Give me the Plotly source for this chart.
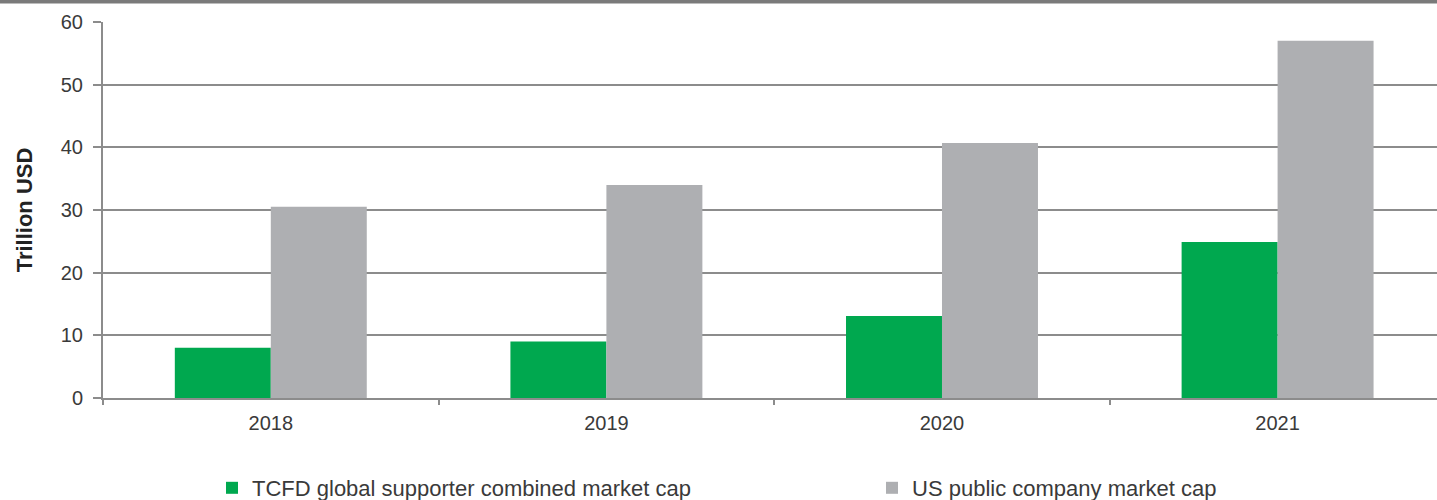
import plotly.graph_objects as go

years = ["2018", "2019", "2020", "2021"]
tcfd_supporters = [8.0, 9.0, 13.1, 24.9]
us_public = [30.5, 34.0, 40.7, 57.0]

GREEN = "#00A84F"
GREY = "#AEAFB2"
AXIS = "#8C8C8C"
TEXT = "#3A3A3A"
FONT = "Liberation Sans, Arial, sans-serif"

W, H = 1437, 500
TOP, BOTTOM = 22, 102
PLOT_H = H - TOP - BOTTOM

fig = go.Figure()
fig.add_trace(go.Bar(
    x=years, y=tcfd_supporters, name="TCFD global supporter combined market cap",
    marker=dict(color=GREEN, line=dict(width=0)), legend="legend",
))
fig.add_trace(go.Bar(
    x=years, y=us_public, name="US public company market cap",
    marker=dict(color=GREY, line=dict(width=0)), legend="legend2",
))

# thin dark band along the top edge of the page
fig.add_shape(type="rect", xref="paper", yref="paper", x0=-1, x1=2,
              y0=1 + (TOP - 3.5) / PLOT_H, y1=1.3,
              fillcolor="#7A7A7A", line=dict(width=0), layer="below")

legend_common = dict(
    orientation="h", xref="container", yref="container",
    y=0.024, yanchor="middle", xanchor="left",
    font=dict(size=22, color=TEXT, family=FONT), itemwidth=30,
    bgcolor="rgba(0,0,0,0)",
)

fig.update_layout(
    width=W, height=H,
    margin=dict(l=103, r=0, t=TOP, b=BOTTOM, autoexpand=False),
    paper_bgcolor="white", plot_bgcolor="white",
    barmode="group", bargap=0.428, bargroupgap=0,
    font=dict(family=FONT, color=TEXT, size=20),
    showlegend=True,
    legend=dict(x=212 / W, **legend_common),
    legend2=dict(x=872 / W, **legend_common),
    xaxis=dict(
        type="category", range=[-0.5, 3.475],
        showline=True, linecolor=AXIS, linewidth=2,
        ticks="outside", tickson="boundaries", ticklen=5, tickcolor=AXIS, tickwidth=2,
        showgrid=False, tickfont=dict(size=20, color=TEXT), ticklabelstandoff=6,
    ),
    yaxis=dict(
        range=[0, 60], dtick=10,
        showline=True, linecolor=AXIS, linewidth=2,
        ticks="outside", ticklen=8, tickcolor=AXIS, tickwidth=2,
        showgrid=True, gridcolor=AXIS, gridwidth=2,
        zeroline=False, tickfont=dict(size=20, color=TEXT), ticklabelstandoff=6,
        title=dict(text="<b>Trillion USD</b>", font=dict(size=22, color="#222222"), standoff=22),
    ),
)

fig.write_html("out.html")
